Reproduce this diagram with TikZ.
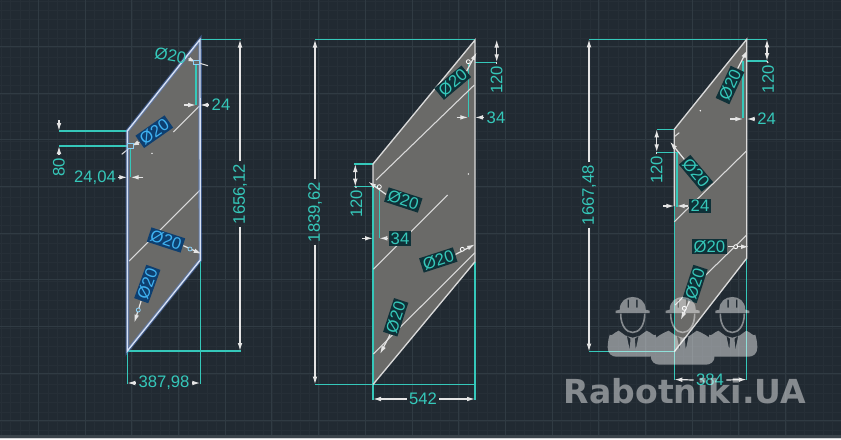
\documentclass[tikz,border=0pt]{standalone}
\usepackage{fontspec}
\setmainfont{Liberation Sans}
\newfontfamily\markfont{DejaVu Sans}
\usetikzlibrary{arrows.meta}
\definecolor{cadback}{HTML}{212A32}
\definecolor{cadgrid}{HTML}{262F37}
\definecolor{cadmajor}{HTML}{303B43}
\definecolor{cadstrip}{HTML}{3B444B}
\definecolor{cadplate}{HTML}{6A6A68}
\definecolor{cadteal}{HTML}{35C8BA}
\definecolor{cadedge}{HTML}{DADADA}
\definecolor{cadblue}{HTML}{3FB2F2}
\definecolor{cadselect}{HTML}{0E3F70}
\definecolor{cadglow}{HTML}{5C86D8}
\definecolor{cadplatelabel}{HTML}{0F3138}
\tikzset{
  every picture/.style={line width=0.75pt},
  extline/.style={draw=cadteal,line width=1.05pt},
  dimline/.style={draw=white!90!black,line width=0.9pt,-{Latex[length=6pt,width=3.5pt]}},
  dimbar/.style={draw=white!90!black,line width=0.9pt,{Latex[length=6pt,width=3.5pt]}-{Latex[length=6pt,width=3.5pt]}},
  dimstem/.style={draw=white!90!black,line width=0.9pt},
  cutline/.style={draw=cadedge,line width=0.8pt},
  dimtext/.style={text=cadteal,font=\fontsize{12.5}{13}\selectfont,inner xsep=1.5pt,inner ysep=1pt},
  platetext/.style={dimtext,fill=cadplatelabel},
  selecttext/.style={dimtext,text=cadblue,fill=cadselect},
  grip/.style={draw=cadblue!60!white,line width=0.6pt,fill=cadplate},
  worker/.style={fill=white,even odd rule},
}
\begin{document}
\begin{tikzpicture}[x=0.75pt,y=0.75pt,yscale=-1,xscale=1]
\useasboundingbox (0,0) rectangle (841,439);
\fill [cadback] (0,0) rectangle (841,439);
%Grid lines
\foreach \gx in {1,...,90} \draw [cadgrid,line width=0.4pt] ({\gx*9.34-8},0) -- ({\gx*9.34-8},439);
\foreach \gy in {0,...,47} \draw [cadgrid,line width=0.4pt] (0,{\gy*9.34+.9}) -- (841,{\gy*9.34+.9});
\foreach \gx in {0,...,17} \draw [cadmajor,line width=0.5pt] ({\gx*46.7-8.4},0) -- ({\gx*46.7-8.4},439);
\foreach \gy in {0,...,9} \draw [cadmajor,line width=0.5pt] (0,{\gy*46.7-0.4}) -- (841,{\gy*46.7-0.4});
\fill [cadstrip] (0,435) rectangle (841,438);
\fill [white!80!cadback] (0,438) rectangle (841,439);

%Shape: left plate
\fill [cadplate] (200,39.5) -- (127.3,131) -- (127.3,351) -- (200.3,260) -- cycle;
\draw [extline] (200,39.5) -- (241,39.5);
\draw [extline] (127.3,351) -- (241,351);
\draw [extline] (127.3,131) -- (59,131);
\draw [extline] (127.3,146) -- (59,146);
\draw [extline] (130.7,146) -- (130.7,177);
\draw [extline] (196,62) -- (196,105);
\draw [extline] (127.3,351) -- (127.3,384);
\draw [extline] (200.3,260) -- (200.3,384);
\draw [cutline] (173.3,132) -- (199.3,106);
\draw [cutline] (129,261) -- (200,190);
\draw [cutline] (121.7,154.3) -- (133.3,145);
\draw [draw=cadglow,opacity=0.5,line width=2.6pt] (200,39.5) -- (127.3,131) -- (127.3,351) -- (200.3,260) -- cycle;
\draw [draw=cadglow!25!white,line width=1pt] (200,39.5) -- (127.3,131) -- (127.3,351) -- (200.3,260) -- cycle;
\fill [white] (152,153.3) circle (0.8);
% Text Node
\node [dimtext,rotate=90] (lefth) at (240,194) {1656,12};
\coordinate (lefttop) at (240,39.5);
\coordinate (leftbot) at (240,351);
\draw [dimline] (lefth.east) -- (lefttop);
\draw [dimline] (lefth.west) -- (leftbot);
\node [dimtext,rotate=90] (leftgap) at (59,167) {80};
\coordinate (leftgapa) at (59,131);
\coordinate (leftgapb) at (59,146);
\coordinate (leftgapc) at (59,120);
\draw [dimline] (leftgapc) -- (leftgapa);
\draw [dimline] (leftgap.east) -- (leftgapb);
\node [dimtext] (leftoff) at (95,177.3) {24,04};
\coordinate (leftoffa) at (127.3,177.3);
\coordinate (leftoffb) at (130.7,177.3);
\coordinate (leftoffc) at (143.3,177.3);
\draw [dimline] (leftoff.east) -- (leftoffa);
\draw [dimline] (leftoffc) -- (leftoffb);
\node [dimtext] (leftin) at (221,105) {24};
\coordinate (leftina) at (200,105);
\coordinate (leftinb) at (196,105);
\coordinate (leftinc) at (184,105);
\draw [dimline] (leftin.west) -- (leftina);
\draw [dimline] (leftinc) -- (leftinb);
\node [dimtext] (leftwide) at (164,383) {387,98};
\coordinate (leftwidea) at (127.3,383);
\coordinate (leftwideb) at (200.3,383);
\draw [dimline] (leftwide.west) -- (leftwidea);
\draw [dimline] (leftwide.east) -- (leftwideb);
\node [dimtext,rotate=-10] (leftholea) at (170.5,55.5) {Ø20};
\coordinate (leftgripa) at (196.5,62.3);
\coordinate (leftenda) at (208,65.7);
\draw [dimline] (leftholea.east) -- (leftgripa);
\draw [cutline] (leftgripa) -- (leftenda);
\draw [grip] (193.8,60) rectangle (199.8,64.6);
\node [selecttext,rotate=35] (leftholeb) at (154.3,131.7) {Ø20};
\coordinate (leftgripb) at (131,146);
\draw [dimline] (leftholeb.west) -- (leftgripb);
\draw [grip] (127.8,143.8) rectangle (133.8,148.2);
\node [selecttext,rotate=-18] (leftholec) at (166,240) {Ø20};
\coordinate (leftendc) at (201.7,254);
\draw [dimline] (leftholec.east) -- (leftendc);
\draw [grip] (190,249) circle (2);
\node [selecttext,rotate=70] (leftholed) at (147.3,284) {Ø20};
\coordinate (leftendd) at (134.3,322.7);
\draw [dimline] (leftholed.west) -- (leftendd);
\draw [grip] (138.3,310) circle (2);

%Shape: middle plate
\fill [cadplate] (475,40) -- (373,164) -- (373,384.5) -- (475,261.7) -- cycle;
\draw [extline] (315,39.5) -- (475,39.5);
\draw [extline] (475,62.3) -- (497,62.3);
\draw [extline] (468.3,62) -- (468.3,117);
\draw [extline] (354.3,164) -- (373,164);
\draw [extline] (354.3,186.7) -- (380,186.7);
\draw [extline] (379.3,186.7) -- (379.3,238);
\draw [extline] (315,384.5) -- (475,384.5);
\draw [extline] (373,186) -- (373,400);
\draw [extline] (475,261.7) -- (475,400);
\draw [cutline] (474.3,85) -- (376,180);
\draw [cutline] (447.7,195) -- (373.3,269.3);
\draw [cutline] (475,252.7) -- (373.3,354);
\draw [draw=cadedge,line width=1pt] (373,186) -- (373,164) -- (475,40) -- (475,261.7) -- (373,384.5);
\fill [white] (468.3,174) circle (0.8);
% Text Node
\node [dimtext,rotate=90] (midh) at (315,212) {1839,62};
\coordinate (midtop) at (315,39.5);
\coordinate (midbot) at (315,384.5);
\draw [dimline] (midh.east) -- (midtop);
\draw [dimline] (midh.west) -- (midbot);
\node [dimtext] (midwide) at (423,399) {542};
\coordinate (midwidea) at (373,399);
\coordinate (midwideb) at (475,399);
\draw [dimline] (midwide.west) -- (midwidea);
\draw [dimline] (midwide.east) -- (midwideb);
\node [dimtext,rotate=90] (midup) at (496.7,80) {120};
\coordinate (midupa) at (496.7,39.5);
\coordinate (midupb) at (496.7,62.3);
\draw [dimbar] (midupb) -- (midupa);
\draw [dimstem] (midup.east) -- (midupb);
\node [dimtext] (midin) at (496,117.4) {34};
\coordinate (midina) at (475,117.4);
\coordinate (midinb) at (468.3,117.4);
\coordinate (midinc) at (456.7,117.4);
\draw [dimline] (midin.west) -- (midina);
\draw [dimline] (midinc) -- (midinb);
\node [dimtext,rotate=90] (midlow) at (356.5,204) {120};
\coordinate (midlowa) at (355.3,164);
\coordinate (midlowb) at (355.3,186.7);
\draw [dimbar] (midlowb) -- (midlowa);
\draw [dimstem] (midlow.east) -- (midlowb);
\node [platetext] (midlin) at (400,238.3) {34};
\coordinate (midlina) at (373,238.3);
\coordinate (midlinb) at (379.3,238.3);
\coordinate (midlinc) at (362.3,238.3);
\draw [dimline] (midlinc) -- (midlina);
\draw [dimline] (midlin.west) -- (midlinb);
\node [platetext,rotate=40] (midholea) at (452.7,82.7) {Ø20};
\coordinate (midenda) at (476.7,52.3);
\draw [dimline] (midholea.east) -- (midenda);
\draw [grip,draw=white] (468.3,61.7) circle (2);
\node [platetext,rotate=-18] (midholeb) at (403.3,200) {Ø20};
\coordinate (midendb) at (368.3,181.7);
\draw [dimline] (midholeb.west) -- (midendb);
\draw [grip,draw=white] (379.3,186.7) circle (2);
\node [platetext,rotate=18] (midholec) at (438.3,260) {Ø20};
\coordinate (midendc) at (475,244.3);
\draw [dimline] (midholec.east) -- (midendc);
\draw [grip,draw=white] (462.3,249.3) circle (2);
\node [platetext,rotate=72] (midholed) at (395.7,317.3) {Ø20};
\coordinate (midendd) at (380,354);
\draw [dimline] (midholed.west) -- (midendd);

%Shape: right plate
\fill [cadplate] (746.7,39.3) -- (674.3,129.3) -- (674.3,351.7) -- (746.7,258.3) -- cycle;
\draw [extline] (589,39.3) -- (767,39.3);
\draw [extline] (746.7,61) -- (767,61);
\draw [extline,line width=1.5pt] (743.3,61) -- (743.3,118.3);
\draw [extline] (656.7,129.3) -- (674.3,129.3);
\draw [extline] (656.7,152.3) -- (680,152.3);
\draw [extline,line width=1.5pt] (676.7,152.3) -- (676.7,206.7);
\draw [extline] (589,351.7) -- (674.3,351.7);
\draw [extline] (674.3,206) -- (674.3,380);
\draw [extline] (746.7,258.3) -- (746.7,380);
\draw [cutline] (746.7,150.7) -- (674.3,221.7);
\draw [cutline] (746.7,235) -- (675,305);
\draw [cutline] (674.3,136.7) -- (679.3,132.7);
\draw [draw=cadedge,line width=1pt] (674.3,206) -- (674.3,129.3) -- (746.7,39.3) -- (746.7,258.3) -- (674.3,351.7);
\fill [white] (700.3,110.7) circle (0.8);
% Text Node
\node [dimtext,rotate=90] (righth) at (589,195) {1667,48};
\coordinate (righttop) at (589,39.3);
\coordinate (rightbot) at (589,351.7);
\draw [dimline] (righth.east) -- (righttop);
\draw [dimline] (righth.west) -- (rightbot);
\node [dimtext] (rightwide) at (710,380) {384};
\coordinate (rightwidea) at (674.3,379.5);
\coordinate (rightwideb) at (746.7,379.5);
\draw [dimline] (rightwide.west) -- (rightwidea);
\draw [dimline] (rightwide.east) -- (rightwideb);
\node [dimtext,rotate=90] (rightup) at (768,79.3) {120};
\coordinate (rightupa) at (767,39.3);
\coordinate (rightupb) at (767,61);
\draw [dimbar] (rightupb) -- (rightupa);
\draw [dimstem] (rightup.east) -- (rightupb);
\node [dimtext] (rightin) at (766.7,119) {24};
\coordinate (rightina) at (746.7,119);
\coordinate (rightinb) at (743.3,119);
\coordinate (rightinc) at (730,119);
\draw [dimline] (rightin.west) -- (rightina);
\draw [dimline] (rightinc) -- (rightinb);
\node [dimtext,rotate=90] (rightlow) at (656.7,170) {120};
\coordinate (rightlowa) at (656.7,129.3);
\coordinate (rightlowb) at (656.7,152.3);
\draw [dimbar] (rightlowb) -- (rightlowa);
\draw [dimstem] (rightlow.east) -- (rightlowb);
\node [platetext] (rightlin) at (700,206) {24};
\coordinate (rightlina) at (674.3,206);
\coordinate (rightlinb) at (676.7,206);
\coordinate (rightlinc) at (663.3,206);
\draw [dimline] (rightlinc) -- (rightlina);
\draw [dimline] (rightlin.west) -- (rightlinb);
\node [platetext,rotate=65] (rightholea) at (730,85) {Ø20};
\coordinate (rightenda) at (747.3,50);
\draw [dimline] (rightholea.east) -- (rightenda);
\node [platetext,rotate=-50] (rightholeb) at (696,173.3) {Ø20};
\coordinate (rightendb) at (670,141.7);
\draw [dimline] (rightholeb.west) -- (rightendb);
\node [platetext] (rightholec) at (709.3,246.7) {Ø20};
\coordinate (rightendc) at (749,246.7);
\draw [dimline] (rightholec.east) -- (rightendc);
\draw [grip,draw=white] (735.7,246.7) circle (2);
\node [platetext,rotate=72] (rightholed) at (695,284) {Ø20};
\coordinate (rightendd) at (680.7,320);
\draw [dimline] (rightholed.west) -- (rightendd);
\draw [grip,draw=white] (684.3,308.3) circle (2);

%Watermark
\begin{scope}[transparency group,opacity=0.45]
\foreach \wx/\wb/\ww in {632.7/50/25,732.3/50/25,682.7/58/32} {
\begin{scope}[shift={(\wx,306.7)}]
\fill [worker] (-17,6.5) -- (-17,4) -- (-13,3) .. controls (-13,-14) and (13,-14) .. (13,3) -- (17,4) -- (17,6.5) -- cycle
  (-5,-7) rectangle (-3.5,1) (3.5,-7) rectangle (5,1);
\draw [white,line width=1.2pt] (-12,7) .. controls (-12,32) and (12,32) .. (12,7);
\fill [worker] (-14,24) -- (-7,29) -- (0,31) -- (7,29) -- (14,24) .. controls (19,26) and ({\ww-4},30) .. ({\ww-2},{\wb-22}) .. controls (\ww,{\wb-16}) and (\ww,{\wb-10}) .. (\ww,{\wb-9}) .. controls (\ww,{\wb-3}) and ({\ww-4},\wb) .. ({\ww-9},\wb) -- ({9-\ww},\wb) .. controls ({4-\ww},\wb) and (-\ww,{\wb-3}) .. (-\ww,{\wb-9}) .. controls (-\ww,{\wb-10}) and (-\ww,{\wb-16}) .. ({2-\ww},{\wb-22}) .. controls ({4-\ww},30) and (-19,26) .. cycle
  (-6,29) -- (-2.2,32) -- (-3,43) -- cycle (6,29) -- (2.2,32) -- (3,43) -- cycle;
\end{scope}
}
\node [text=white,font=\markfont\bfseries\fontsize{24.8}{26}\selectfont,inner sep=0pt] (marktext) at (685,391.5) {Rabotniki.UA};
\end{scope}
\end{tikzpicture}
\end{document}
